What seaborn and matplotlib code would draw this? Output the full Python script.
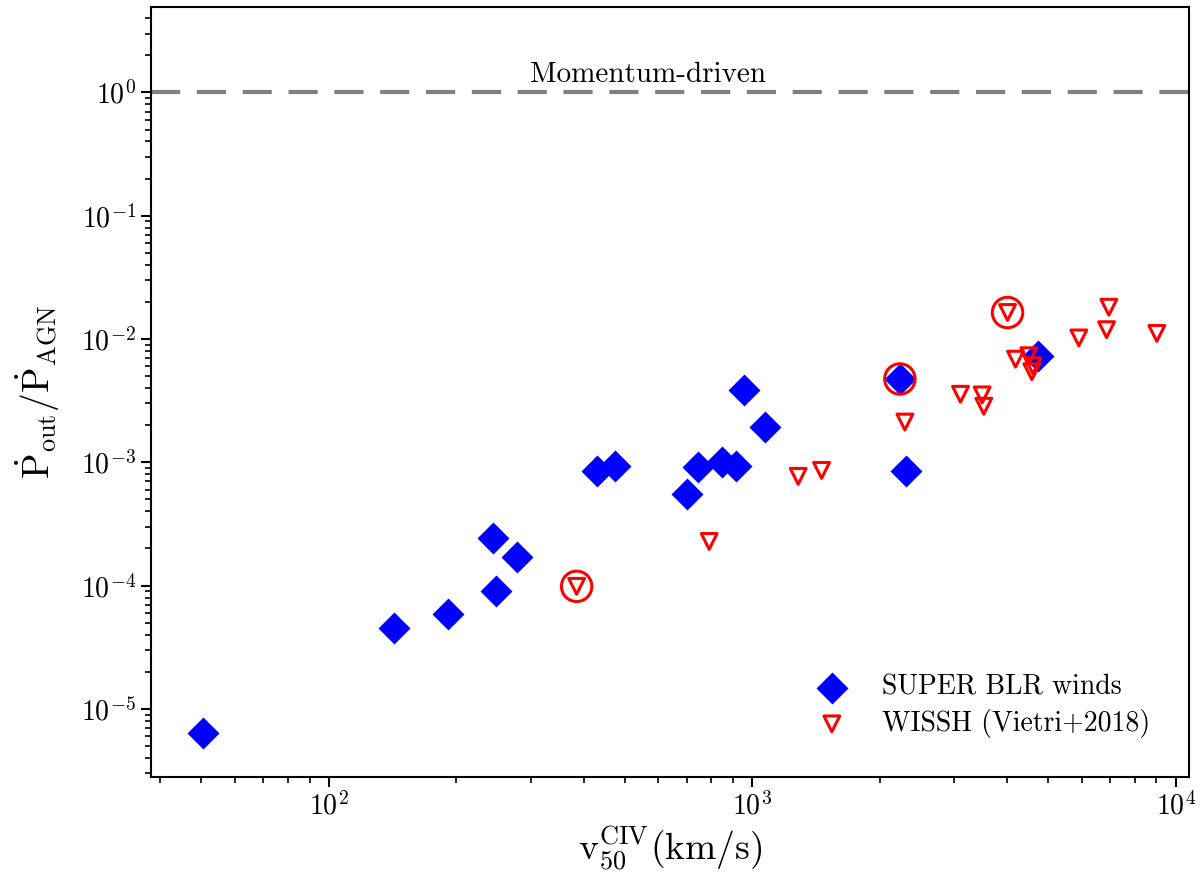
import numpy as np
import pandas as pd
import matplotlib
matplotlib.use('Agg')
import matplotlib.pyplot as plt
import seaborn as sns

# ---- data ----
super_v = [50.3, 142.6, 191.3, 243.9, 278.4, 248.3, 430, 473.5, 700, 745,
           846, 915, 955, 1072, 2230, 2300, 4730]
super_p = [6.4e-6, 4.53e-5, 5.88e-5, 2.41e-4, 1.71e-4, 9.1e-5, 8.44e-4,
           9.27e-4, 5.53e-4, 9.16e-4, 9.98e-4, 9.27e-4, 3.88e-3, 1.93e-3,
           4.74e-3, 8.44e-4, 7.22e-3]
wissh_v = [384.6, 790.7, 1283, 1457, 2292, 3101, 3488, 3520, 4005, 4183,
           4497, 4595, 4571, 5902, 6862, 6948, 9018]
wissh_p = [9.86e-5, 2.28e-4, 7.69e-4, 8.60e-4, 2.12e-3, 3.56e-3, 3.52e-3,
           2.85e-3, 1.64e-2, 6.86e-3, 7.32e-3, 6.07e-3, 5.43e-3, 1.02e-2,
           1.19e-2, 1.81e-2, 1.11e-2]
circled_v = [384.6, 2230, 4005]
circled_p = [9.86e-5, 4.74e-3, 1.64e-2]
momentum_level = 1.0

sns.set_style("ticks")
plt.rcParams['font.family'] = ['cmr10', 'DejaVu Serif']
plt.rcParams['mathtext.fontset'] = 'cm'
plt.rcParams['axes.formatter.use_mathtext'] = True
plt.rcParams['axes.unicode_minus'] = True
for k in ['text.color', 'axes.labelcolor', 'xtick.color', 'ytick.color',
          'axes.edgecolor']:
    plt.rcParams[k] = 'black'

fig = plt.figure(figsize=(12, 8.82), dpi=100)
ax = fig.add_axes([0.1258, 0.119, 0.865, 0.8727])

df_s = pd.DataFrame({'v': super_v, 'p': super_p})
df_w = pd.DataFrame({'v': wissh_v, 'p': wissh_p})
df_c = pd.DataFrame({'v': circled_v, 'p': circled_p})

sns.scatterplot(data=df_s, x='v', y='p', marker='D', s=265, color='blue',
                edgecolor='blue', linewidth=0, label='SUPER BLR winds', ax=ax, zorder=3)
sns.scatterplot(data=df_w, x='v', y='p', marker='v', s=130, facecolor='none',
                edgecolor='red', linewidth=2.2, label='WISSH (Vietri+2018)', ax=ax, zorder=4)
sns.scatterplot(data=df_c, x='v', y='p', marker='o', s=480, facecolor='none',
                edgecolor='red', linewidth=2.2, ax=ax, zorder=5, legend=False)

ax.axhline(momentum_level, color='gray', lw=3, ls='--', dashes=(7, 4), zorder=2)
ax.text(566, 1.39, 'Momentum-driven', ha='center', va='center', fontsize=21)

ax.set_xscale('log')
ax.set_yscale('log')
ax.set_xlim(38, 10740)
ax.set_ylim(2.8e-6, 4.9)

ax.set_xlabel(r'$\mathrm{v_{50}^{CIV}(km/s)}$', fontsize=27, labelpad=2)
ax.set_ylabel(r'$\dot{\mathrm{P}}_{\mathrm{out}}/\dot{\mathrm{P}}_{\mathrm{AGN}}$',
              fontsize=27, labelpad=14)

ax.tick_params(which='major', direction='out', length=7, width=1.5, labelsize=20)
ax.tick_params(which='minor', direction='out', length=4.5, width=1.2)
for sp in ax.spines.values():
    sp.set_linewidth(1.5)
    sp.set_color('black')

leg = ax.legend(loc='lower right', frameon=False, fontsize=20, scatterpoints=1,
                handletextpad=0.8, borderaxespad=1.0, labelspacing=0.3)

fig.savefig('out.png', dpi=100)
